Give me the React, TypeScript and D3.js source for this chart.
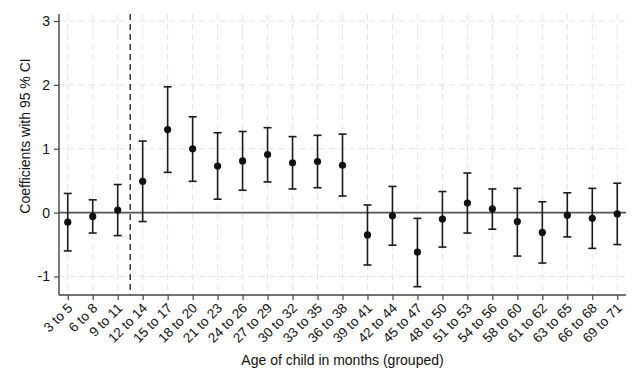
import * as d3 from "d3";
import { useEffect, useRef } from "react";

const categories = [
  "3 to 5", "6 to 8", "9 to 11", "12 to 14", "15 to 17", "18 to 20",
  "21 to 23", "24 to 26", "27 to 29", "30 to 32", "33 to 35", "36 to 38",
  "39 to 41", "42 to 44", "45 to 47", "48 to 50", "51 to 53", "54 to 56",
  "58 to 60", "61 to 62", "63 to 65", "66 to 68", "69 to 71",
];
const coef = [
  -0.15, -0.06, 0.04, 0.49, 1.3, 1.0, 0.73, 0.81, 0.91, 0.78, 0.8, 0.74,
  -0.35, -0.05, -0.62, -0.1, 0.15, 0.06, -0.14, -0.31, -0.04, -0.09, -0.02,
];
const upper = [
  0.3, 0.2, 0.44, 1.12, 1.97, 1.5, 1.25, 1.27, 1.33, 1.19, 1.21, 1.23,
  0.12, 0.41, -0.09, 0.33, 0.62, 0.37, 0.38, 0.17, 0.31, 0.38, 0.46,
];
const lower = [
  -0.6, -0.32, -0.36, -0.14, 0.63, 0.49, 0.21, 0.35, 0.48, 0.37, 0.39, 0.26,
  -0.82, -0.51, -1.16, -0.54, -0.32, -0.26, -0.68, -0.79, -0.38, -0.56, -0.5,
];
const yTicks = [-1, 0, 1, 2, 3];
const cutoff = 2.5; // dashed line between "9 to 11" and "12 to 14"

const W = 640;
const H = 384;

export default function App() {
  const ref = useRef<SVGSVGElement>(null);

  useEffect(() => {
    const svg = d3.select(ref.current);
    svg.selectAll("*").remove();

    const left = 59, right = 626, top = 14, bottom = 295;
    const x = d3.scaleLinear().domain([-0.35, categories.length - 1 + 0.35]).range([left, right]);
    const y = d3.scaleLinear().domain([-1.29, 3.11]).range([bottom, top]);
    const font = "'Liberation Sans', Arial, sans-serif";
    const ink = "#1a1a1a";

    svg.append("rect").attr("width", W).attr("height", H).attr("fill", "#fff");

    // grid
    const grid = svg.append("g").attr("stroke", "#e4e4e4").attr("stroke-width", 1).attr("stroke-dasharray", "6,4");
    categories.forEach((_, i) => {
      grid.append("line").attr("x1", x(i)).attr("x2", x(i)).attr("y1", top).attr("y2", bottom);
    });
    yTicks.filter((t) => t !== 0).forEach((t) => {
      grid.append("line").attr("x1", left).attr("x2", right).attr("y1", y(t)).attr("y2", y(t));
    });

    // zero line
    svg.append("line")
      .attr("x1", left).attr("x2", right).attr("y1", y(0)).attr("y2", y(0))
      .attr("stroke", "#555").attr("stroke-width", 1.6);

    // cutoff line
    svg.append("line")
      .attr("x1", x(cutoff)).attr("x2", x(cutoff)).attr("y1", top).attr("y2", bottom)
      .attr("stroke", ink).attr("stroke-width", 1.3).attr("stroke-dasharray", "6,4");

    // y axis
    const yAxis = svg.append("g")
      .attr("transform", `translate(${left},0)`)
      .call(d3.axisLeft(y).tickValues(yTicks).tickSize(5).tickPadding(4).tickFormat((d) => String(d)));
    yAxis.select(".domain").attr("stroke", "#444").attr("stroke-width", 1.4).attr("d", `M0,${top}V${bottom}`);
    yAxis.selectAll(".tick line").attr("stroke", "#444").attr("stroke-width", 1.2);
    yAxis.selectAll("text").attr("font-family", font).attr("font-size", 14).attr("fill", "#111");

    // x axis
    const xAxis = svg.append("g")
      .attr("transform", `translate(0,${bottom})`)
      .call(
        d3.axisBottom(x)
          .tickValues(d3.range(categories.length))
          .tickSize(5)
          .tickFormat((d) => categories[d as number])
      );
    xAxis.select(".domain").attr("stroke", "#444").attr("stroke-width", 1.4).attr("d", `M${left},0H${right}`);
    xAxis.selectAll(".tick line").attr("stroke", "#444").attr("stroke-width", 1.2);
    xAxis.selectAll("text")
      .attr("font-family", font).attr("font-size", 13.5).attr("fill", "#111")
      .attr("text-anchor", "end")
      .attr("y", 0).attr("dy", 0)
      .attr("transform", "translate(5,14)rotate(-45)");

    // error bars
    const bars = svg.append("g").attr("stroke", ink).attr("stroke-width", 1.6);
    categories.forEach((_, i) => {
      bars.append("line").attr("x1", x(i)).attr("x2", x(i)).attr("y1", y(upper[i])).attr("y2", y(lower[i]));
      [upper[i], lower[i]].forEach((v) => {
        bars.append("line").attr("x1", x(i) - 4).attr("x2", x(i) + 4).attr("y1", y(v)).attr("y2", y(v));
      });
    });

    svg.append("g")
      .selectAll("circle")
      .data(coef)
      .enter()
      .append("circle")
      .attr("cx", (d, i) => x(i))
      .attr("cy", (d) => y(d))
      .attr("r", 3.6)
      .attr("fill", "#111");

    // titles
    svg.append("text")
      .attr("transform", `translate(30,136)rotate(-90)`)
      .attr("text-anchor", "middle")
      .attr("font-family", font).attr("font-size", 14).attr("fill", "#111")
      .text("Coefficients with 95 % CI");

    svg.append("text")
      .attr("x", (left + right) / 2).attr("y", 365)
      .attr("text-anchor", "middle")
      .attr("font-family", font).attr("font-size", 14).attr("fill", "#111")
      .text("Age of child in months (grouped)");
  }, []);

  return (
    <svg
      ref={ref}
      width={W}
      height={H}
      style={{ position: "absolute", left: 0, top: 0, display: "block" }}
    />
  );
}
